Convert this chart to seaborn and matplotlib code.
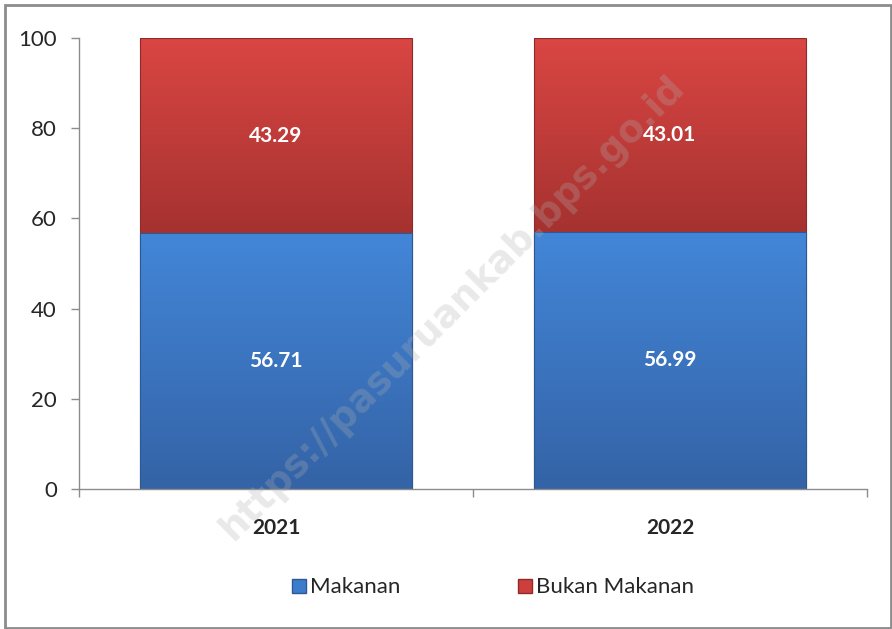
import numpy as np
import pandas as pd
import seaborn as sns
import matplotlib.pyplot as plt
from matplotlib.patches import Rectangle
from matplotlib.colors import LinearSegmentedColormap

# data
tahun = ['2021', '2022']
makanan = [56.71, 56.99]
bukan_makanan = [43.29, 43.01]
yticks = [0, 20, 40, 60, 80, 100]

sns.set_theme(style='white')
plt.rcParams['font.family'] = ['Lato', 'DejaVu Sans']

df = pd.DataFrame({'tahun': tahun, 'Makanan': makanan, 'Bukan Makanan': bukan_makanan})
df['total'] = df['Makanan'] + df['Bukan Makanan']

fig = plt.figure(figsize=(8.92, 6.29), dpi=100)
ax = fig.add_axes([0.0886, 0.2226, 0.8834, 0.717])

blue = '#3D7CCB'
red = '#CC3F3C'

sns.barplot(data=df, x='tahun', y='total', color=red, width=0.69, saturation=1,
            edgecolor='#8E2A28', linewidth=0.8, ax=ax)
n_red = len(ax.patches)
sns.barplot(data=df, x='tahun', y='Makanan', color=blue, width=0.69, saturation=1,
            edgecolor='#2B5A93', linewidth=0.8, ax=ax)

# vertical shading like the office-style bars
cmap_blue = LinearSegmentedColormap.from_list('b', ['#3463A6', '#4386D8'])
cmap_red = LinearSegmentedColormap.from_list('r', ['#A53230', '#DA4643'])
grad = np.linspace(0, 1, 256).reshape(-1, 1)
for k, p in enumerate(list(ax.patches)):
    x0, y0 = p.get_x(), p.get_y()
    w, h = p.get_width(), p.get_height()
    if k < n_red:
        # red part only visible above the blue stack
        y0 = makanan[k]
        h = h - makanan[k]
        cm = cmap_red
    else:
        cm = cmap_blue
    im = ax.imshow(grad, extent=[x0, x0 + w, y0, y0 + h], origin='lower',
                   cmap=cm, aspect='auto', zorder=p.get_zorder() + 0.1 * k,
                   interpolation='bilinear')
    im.set_clip_path(p)
    p.set_zorder(p.get_zorder() + 0.1 * k + 0.05)
    p.set_facecolor('none')

# value labels
for i in range(len(tahun)):
    ax.text(i, makanan[i] / 2, f'{makanan[i]:.2f}', ha='center', va='center',
            color='white', fontsize=15, fontweight='bold', zorder=5)
    ax.text(i, makanan[i] + bukan_makanan[i] / 2, f'{bukan_makanan[i]:.2f}',
            ha='center', va='center', color='white', fontsize=15, fontweight='bold', zorder=5)

ax.set_xlim(-0.5, 1.5)
ax.set_ylim(0, 100)
ax.set_yticks(yticks)
ax.set_yticklabels([str(v) for v in yticks], fontsize=16)
ax.set_xticks([0, 1])
ax.set_xticklabels(tahun, fontsize=15, fontweight='bold')
ax.set_xlabel('')
ax.set_ylabel('')

for s in ['top', 'right']:
    ax.spines[s].set_visible(False)
for s in ['left', 'bottom']:
    ax.spines[s].set_color('#8C8C8C')
    ax.spines[s].set_linewidth(1)

ax.tick_params(axis='y', left=True, length=6, width=1, color='#8C8C8C', pad=10)
ax.tick_params(axis='x', bottom=False, pad=15)
ax.set_xticks([-0.5, 0.5, 1.5], minor=True)
ax.tick_params(axis='x', which='minor', bottom=True, length=6, width=1, color='#8C8C8C')

# legend
handles = [Rectangle((0, 0), 1, 1, facecolor=blue, edgecolor='#2B5A93'),
           Rectangle((0, 0), 1, 1, facecolor=red, edgecolor='#8E2A28')]
fig.legend(handles, ['Makanan', 'Bukan Makanan'], loc='center',
           bbox_to_anchor=(0.553, 0.066), ncol=2, frameon=False, fontsize=16,
           handlelength=0.6, handleheight=0.6, handletextpad=0.2, columnspacing=5.3)

# watermark
fig.text(0.507, 0.51, 'https://pasuruankab.bps.go.id', rotation=45, ha='center',
         va='center', fontsize=27, fontweight='bold', color='#B0B0B0', alpha=0.28,
         family=['DejaVu Sans'], zorder=10)

# outer frame
fig.patches.append(Rectangle((0.006, 0.002), 0.993, 0.99, transform=fig.transFigure,
                             fill=False, edgecolor='#8C8C8C', linewidth=2))

fig.savefig('out.png', dpi=100)
